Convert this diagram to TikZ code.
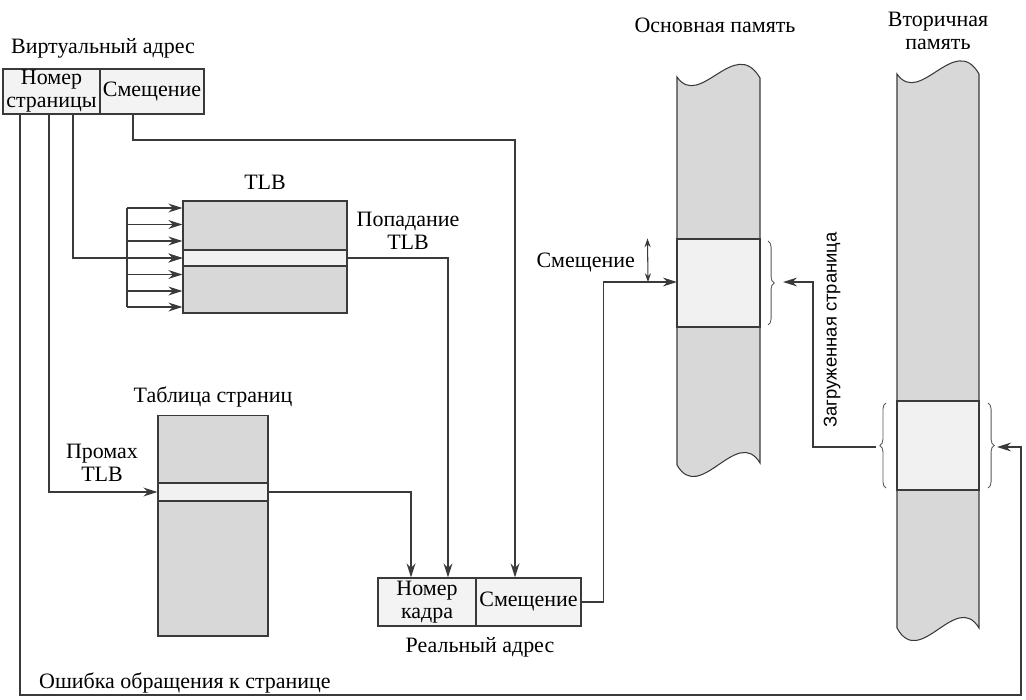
\documentclass[tikz,border=0pt]{standalone}
\usepackage{fontspec}
\setmainfont{LiberationSerif}[Extension=.ttf, UprightFont=*-Regular, BoldFont=*-Bold]
\newfontfamily\serifface{LiberationSerif}[Extension=.ttf, UprightFont=*-Regular, BoldFont=*-Bold]
\newfontfamily\narrowsans{Liberation Sans}
\usetikzlibrary{arrows.meta,decorations.pathreplacing}
\definecolor{edge}{HTML}{3A3A3A}
\definecolor{memgray}{HTML}{D8D8D8}
\definecolor{slotfill}{HTML}{F1F1F1}
\definecolor{cellfill}{HTML}{F3F3F3}
\begin{document}
\begin{tikzpicture}[x=0.02cm,y=-0.02cm,
    font=\serifface\fontsize{12.5}{13}\selectfont,
    cell/.style={draw=edge, line width=0.6pt, fill=cellfill, inner sep=0pt, align=center},
    memblock/.style={draw=edge, line width=0.6pt, fill=memgray, inner sep=0pt},
    rowbox/.style={draw=edge, line width=0.6pt, fill=slotfill, inner sep=0pt},
    link/.style={draw=edge, line width=1.1pt},
    arr/.style={link, -{Stealth[length=8pt,width=5pt]}},
    darr/.style={draw=edge, line width=0.6pt, {Stealth[length=5pt,width=3.5pt]}-{Stealth[length=5pt,width=3.5pt]}},
    brc/.style={draw=gray!70!black, line width=0.5pt, decorate, decoration={brace, amplitude=3.5pt}}]
    \useasboundingbox (0,0) rectangle (1026,699);
    \node (valabel) at (103,48) {Виртуальный адрес};
    \node[cell, minimum width=1.94cm, minimum height=0.9cm] (vpage) at (51.5,91.5) {Номер\\страницы};
    \node[cell, minimum width=2.08cm, minimum height=0.9cm] (voff) at (152,91.5) {Смещение};
    \coordinate (f1) at (20,114);
    \coordinate (f2) at (49,114);
    \coordinate (f3) at (73,114);
    \coordinate (f4) at (133,114);
    \node (tlblabel) at (265,182) {TLB};
    \node[memblock, minimum width=3.28cm, minimum height=2.24cm] (tlb) at (265,257) {};
    \node[rowbox, minimum width=3.28cm, minimum height=0.32cm] (trow) at (265,258) {};
    \node[align=center] (hit) at (408,231) {Попадание\\TLB};
    \node (ptlabel) at (213,397) {Таблица страниц};
    \node[memblock, minimum width=2.2cm, minimum height=4.42cm] (ptab) at (213,525.5) {};
    \node[rowbox, minimum width=2.2cm, minimum height=0.36cm] (prow) at (213,492) {};
    \node[align=center] (miss) at (102,463) {Промах\\TLB};
    \node[cell, minimum width=1.96cm, minimum height=0.96cm] (rpage) at (427,602) {Номер\\кадра};
    \node[cell, minimum width=2.1cm, minimum height=0.96cm] (roff) at (528.5,602) {Смещение};
    \node (ralabel) at (480,647) {Реальный адрес};
    \node[anchor=west] (fault) at (33,683) {Ошибка обращения к странице};
    \node (mmlabel) at (715,25) {Основная память};
    \path[memblock] (677,77) .. controls (700,110) and (735,35) .. (760,78) -- (760,463)
      .. controls (737,425) and (700,505) .. (677,465) -- cycle;
    \node[rowbox, minimum width=1.66cm, minimum height=1.76cm] (mpage) at (718.5,283) {};
    \node[align=center] (smlabel) at (938,31) {Вторичная\\память};
    \path[memblock] (897,74) .. controls (920,107) and (955,32) .. (979,74) -- (979,628)
      .. controls (956,590) and (920,670) .. (897,628) -- cycle;
    \node[rowbox, minimum width=1.64cm, minimum height=1.78cm] (spage) at (938,445.5) {};
    \node[anchor=east] (moffl) at (641,263) {Смещение};
    \node[rotate=90, font=\narrowsans\fontsize{10.5}{11}\selectfont] (loaded) at (832,330) {Загруженная страница};
    \draw[brc] (768,241) -- (768,325);
    \draw[brc] (886,488) -- (886,403);
    \draw[brc] (988,403) -- (988,488);
    \coordinate (mhit) at (677,282);
    \coordinate (mbr) at (783,282);
    \coordinate (sbrL) at (876,447);
    \coordinate (sbrR) at (997,447);
    \coordinate (fc) at (1021,695);
    \coordinate (o1) at (515,140);
    \draw[arr] (f1) |- (fc) |- (sbrR);
    \draw[arr] (f2) |- (prow.west);
    \draw[arr] (f3) |- (trow.west);
    \draw[link] (127,208) -- (127,307);
    \foreach \y in {208,224.5,241,258,274.5,291,307}
      \draw[arr] (127,\y) -- (127,\y -| tlb.west);
    \draw[arr] (f4) |- (o1) -- (o1 |- roff.north);
    \draw[arr] (trow.east) -| ([xshift=0.42cm]rpage.north);
    \draw[arr] (prow.east) -| ([xshift=-0.32cm]rpage.north);
    \draw[arr] (roff.east) -- ++(22,0) |- (mhit);
    \draw[darr] ([xshift=-0.58cm]mpage.north west) -- ([xshift=-0.58cm]mhit);
    \draw[arr] (sbrL) -- ++(-63,0) |- (mbr);
  \end{tikzpicture}
\end{document}
